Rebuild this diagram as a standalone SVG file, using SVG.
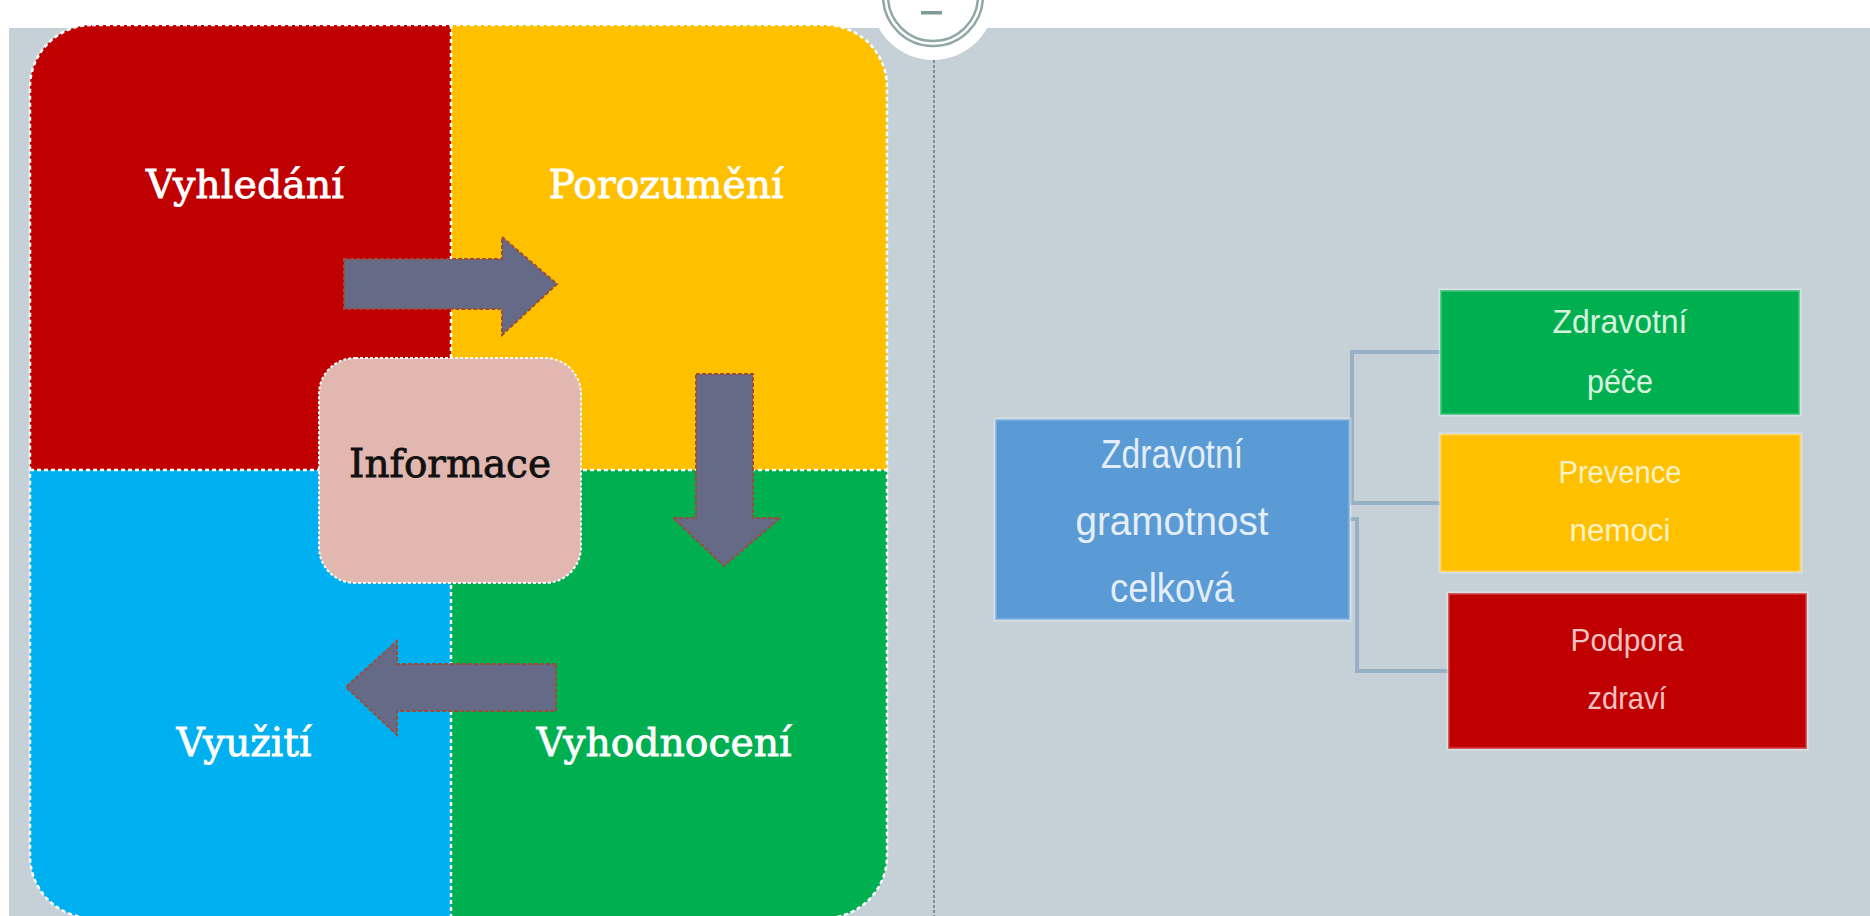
<svg xmlns="http://www.w3.org/2000/svg" width="1870" height="916" viewBox="0 0 1870 916">
<defs>
<style>
.lbl{font-family:"DejaVu Serif","Liberation Serif",serif;font-size:39px;text-anchor:middle;stroke-width:0.8}
.sans{font-family:"Liberation Sans","Noto Sans",sans-serif;text-anchor:middle}
.arrow{fill:#656b86;stroke:#9a4d3c;stroke-width:2;stroke-dasharray:4 2}
.div{stroke:#ffffff;stroke-width:2.5;stroke-dasharray:4 3;fill:none}
.conn{fill:none;stroke:#98b0c6;stroke-width:4}
.box{stroke:#ffffff;stroke-opacity:0.35;stroke-width:3}
</style>
<clipPath id="sq"><rect x="30" y="25" width="857" height="893" rx="62" ry="62"/></clipPath>
</defs>
<rect x="0" y="0" width="1870" height="916" fill="#ffffff"/>
<rect x="9" y="28" width="1861" height="888" fill="#c5d0d7"/>

<g id="quadrants">
<g clip-path="url(#sq)">
<rect x="30" y="25" width="421" height="445" fill="#c00000"/>
<rect x="451" y="25" width="436" height="445" fill="#ffc000"/>
<rect x="30" y="470" width="421" height="448" fill="#00b0f0"/>
<rect x="451" y="470" width="436" height="448" fill="#00b050"/>
</g>
<rect x="30" y="25" width="857" height="893" rx="62" ry="62" class="div"/>
<line x1="451" y1="25" x2="451" y2="916" class="div"/>
<line x1="30" y1="470" x2="887" y2="470" class="div"/>
</g>

<g id="top-circle">
<circle cx="933" cy="-2" r="62" fill="#ffffff"/>
<circle cx="933" cy="-4" r="50" fill="none" stroke="#8fa8a6" stroke-width="2.5"/>
<circle cx="933" cy="-4" r="45" fill="none" stroke="#8fa8a6" stroke-width="2.5"/>
<rect x="921" y="11" width="21" height="3.5" fill="#7f9b99"/>
</g>
<line x1="934" y1="60" x2="934" y2="916" stroke="#6b7189" stroke-width="1.5" stroke-dasharray="3 2"/>

<g id="arrows">
<polygon class="arrow" points="344,259 502,259 502,237 557,284 502,335 502,309 344,309"/>
<polygon class="arrow" points="696,374 753,374 753,518 780,518 724,566 673,518 696,518"/>
<polygon class="arrow" points="556,664 397,664 397,641 346,687 397,735 397,711 556,711"/>
</g>

<g id="node-vyhledani"><text class="lbl" x="245" y="198" fill="#ffffff" stroke="#ffffff" textLength="198" lengthAdjust="spacingAndGlyphs">Vyhledání</text></g>
<g id="node-porozumeni"><text class="lbl" x="666" y="198" fill="#ffffff" stroke="#ffffff" textLength="235" lengthAdjust="spacingAndGlyphs">Porozumění</text></g>
<g id="node-vyuziti"><text class="lbl" x="244" y="756" fill="#ffffff" stroke="#ffffff" textLength="135" lengthAdjust="spacingAndGlyphs">Využití</text></g>
<g id="node-vyhodnoceni"><text class="lbl" x="664" y="756" fill="#ffffff" stroke="#ffffff" textLength="255" lengthAdjust="spacingAndGlyphs">Vyhodnocení</text></g>

<g id="node-informace">
<rect x="319" y="358" width="262" height="225" rx="36" ry="36" fill="#e1b7b0" stroke="#ffffff" stroke-width="2" stroke-dasharray="3 2"/>
<text class="lbl" x="450" y="477" fill="#111111" stroke="#111111" textLength="202" lengthAdjust="spacingAndGlyphs">Informace</text>
</g>

<g id="connectors">
<polyline class="conn" points="1440,352 1352,352 1352,503"/>
<line class="conn" x1="1350" y1="503" x2="1440" y2="503"/>
<polyline class="conn" points="1350,519 1357,519 1357,671 1448,671"/>
</g>

<g id="node-gramotnost">
<rect class="box" x="995" y="419" width="355" height="201" fill="#5b9bd5"/>
<text class="sans" x="1172" y="468" font-size="40" fill="#e4eef8" textLength="142" lengthAdjust="spacingAndGlyphs">Zdravotní</text>
<text class="sans" x="1172" y="535" font-size="40" fill="#e4eef8" textLength="193" lengthAdjust="spacingAndGlyphs">gramotnost</text>
<text class="sans" x="1172" y="602" font-size="40" fill="#e4eef8" textLength="124" lengthAdjust="spacingAndGlyphs">celková</text>
</g>

<g id="node-pece">
<rect class="box" x="1440" y="290" width="360" height="125" fill="#00b050"/>
<text class="sans" x="1620" y="333" font-size="34" fill="#d8f2de" textLength="135" lengthAdjust="spacingAndGlyphs">Zdravotní</text>
<text class="sans" x="1620" y="393" font-size="34" fill="#d8f2de" textLength="66" lengthAdjust="spacingAndGlyphs">péče</text>
</g>

<g id="node-prevence">
<rect class="box" x="1440" y="434" width="361" height="138" fill="#ffc000"/>
<text class="sans" x="1620" y="483" font-size="31" fill="#fff3c6" textLength="123" lengthAdjust="spacingAndGlyphs">Prevence</text>
<text class="sans" x="1620" y="541" font-size="31" fill="#fff3c6" textLength="101" lengthAdjust="spacingAndGlyphs">nemoci</text>
</g>

<g id="node-podpora">
<rect class="box" x="1448" y="593" width="359" height="156" fill="#c00000"/>
<text class="sans" x="1627" y="651" font-size="32" fill="#f3c2c2" textLength="113" lengthAdjust="spacingAndGlyphs">Podpora</text>
<text class="sans" x="1627" y="709" font-size="32" fill="#f3c2c2" textLength="79" lengthAdjust="spacingAndGlyphs">zdraví</text>
</g>
</svg>
